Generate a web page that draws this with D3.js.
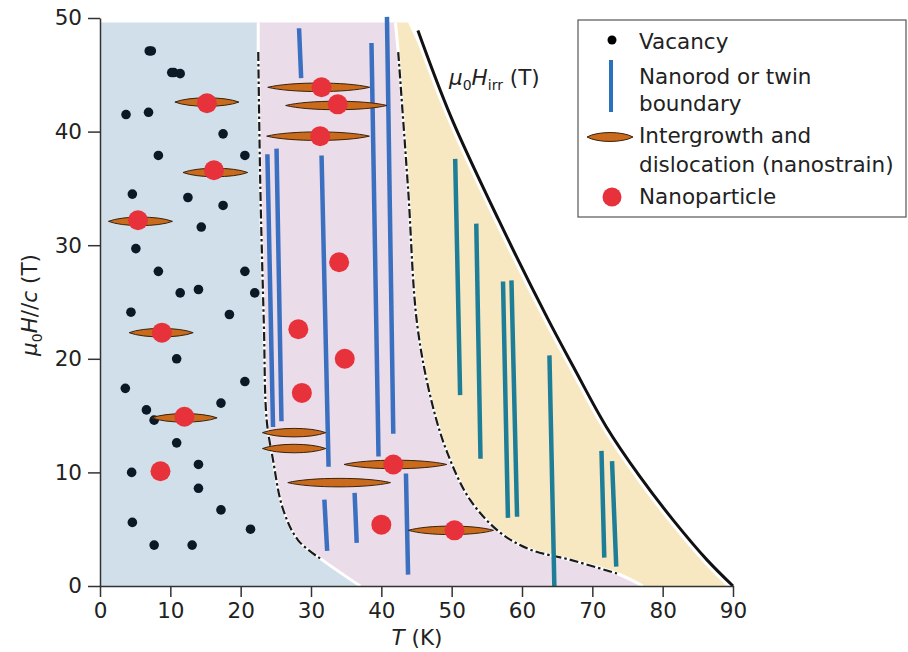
<!DOCTYPE html>
<html>
<head>
<meta charset="utf-8">
<script src="https://cdn.jsdelivr.net/npm/d3@7"></script>
<style>
  body { margin: 0; background: #fff; }
  text { font-family: "DejaVu Sans", sans-serif; fill: #222; }
</style>
</head>
<body>
<svg width="908" height="652"></svg>
<script>
// ---- data (T in K, field in T) ----
var xTicks = [0, 10, 20, 30, 40, 50, 60, 70, 80, 90];
var yTicks = [0, 10, 20, 30, 40, 50];
var regionTop = 49.6;

// blue / pink boundary and its dash-dot line
var leftEdge = [[22.5, 49.6], [22.5, 47], [22.8, 35], [23.3, 23], [23.7, 14.6], [24.6, 11.1],
                [26, 6.8], [28.2, 4], [31.6, 2.3], [37, 0]];
var leftDash = [[22.5, 47], [22.8, 35], [23.3, 23], [23.7, 14.6], [24.6, 11.1],
                [26, 6.8], [28.2, 4], [31.6, 2.3]];
// pink / yellow boundary and its dash-dot line
var rightEdge = [[42, 49.6], [42.4, 47], [43.8, 35], [45.1, 23], [47.2, 16.1], [49.4, 11.7],
                 [52.6, 7.6], [56.9, 4.7], [61.2, 3.2], [66.9, 2.3], [73.5, 1.1], [77.2, 0]];
var rightDash = [[42.4, 47], [43.8, 35], [45.1, 23], [47.2, 16.1], [49.4, 11.7],
                 [52.6, 7.6], [56.9, 4.7], [61.2, 3.2], [66.9, 2.3], [73.5, 1.1]];
// irreversibility field
var hirr = [[45.2, 48.9], [49.9, 41.3], [56.7, 32.2], [63.6, 23.6], [67.3, 19.3], [72.0, 14.0],
            [76.8, 9.6], [81.5, 5.8], [86.3, 2.3], [90, 0]];

var vacancies = [[7.0, 47.1], [7.3, 47.1], [10.2, 45.2], [10.5, 45.2], [11.4, 45.1], [3.7, 41.5],
    [6.9, 41.7], [17.5, 39.8], [8.3, 37.9], [20.6, 37.9], [4.6, 34.5], [12.5, 34.2],
    [17.5, 33.5], [14.4, 31.6], [5.1, 29.7], [8.3, 27.7], [20.6, 27.7], [11.4, 25.8],
    [14.0, 26.1], [22.0, 25.8], [4.4, 24.1], [18.4, 23.9], [10.9, 20.0], [3.6, 17.4],
    [20.6, 18.0], [6.6, 15.5], [7.7, 14.6], [17.2, 16.1], [10.9, 12.6], [4.5, 10.0],
    [14.0, 10.7], [14.0, 8.6], [17.2, 6.7], [4.6, 5.6], [21.4, 5.0], [7.7, 3.6], [13.1, 3.6]];

// nanorods / twin boundaries: [T top, H top, T bottom, H bottom]
var nanorods = [[28.3, 49.1, 28.6, 44.7], [23.8, 38.0, 24.6, 14.0], [25.1, 38.5, 25.8, 14.5],
    [31.5, 37.9, 32.5, 10.5], [38.6, 47.8, 39.6, 11.4], [40.8, 50.1, 41.7, 13.4],
    [31.9, 7.6, 32.3, 3.1], [36.2, 8.2, 36.5, 3.8], [43.5, 9.9, 43.8, 1.0]];
var twins = [[50.5, 37.6, 51.2, 16.8], [53.5, 31.9, 54.1, 11.2], [57.3, 26.8, 58.0, 6.0],
    [58.5, 26.9, 59.3, 6.1], [63.9, 20.3, 64.6, 0], [71.3, 11.9, 71.7, 2.5], [72.8, 11.0, 73.4, 1.7]];

// intergrowths: [T centre, H, half length in K]
var intergrowths = [[15.2, 42.6, 4.55], [16.4, 36.4, 4.6], [5.75, 32.1, 4.55], [8.7, 22.3, 4.55],
    [12.0, 14.8, 4.65], [31.1, 43.9, 7.25], [33.6, 42.3, 7.2], [31.0, 39.6, 7.3],
    [27.6, 13.5, 4.5], [27.6, 12.1, 4.5], [42.0, 10.7, 7.3], [34.0, 9.1, 7.3], [49.9, 4.9, 6.05]];

var nanoparticles = [[15.2, 42.5], [16.2, 36.6], [5.4, 32.2], [8.8, 22.3], [12.0, 14.9],
    [8.6, 10.1], [31.5, 43.9], [33.8, 42.4], [31.3, 39.6], [34.0, 28.5], [28.2, 22.6],
    [34.8, 20.0], [28.7, 17.0], [41.7, 10.7], [40.0, 5.4], [50.4, 4.9]];

var legendItems = [["Vacancy"], ["Nanorod or twin", "boundary"],
    ["Intergrowth and", "dislocation (nanostrain)"], ["Nanoparticle"]];

// ---- drawing ----
var svg = d3.select("svg");
var x = d3.scaleLinear().domain([0, 90]).range([100, 733]);
var y = d3.scaleLinear().domain([0, 50]).range([586, 18]);

var blue = "#d0dfe9", pink = "#ebdcea", yellow = "#f8e8c1";
var rodBlue = "#3b70c0", teal = "#1f7e97", red = "#e8323b", orange = "#c96a1c";
var fs = 21.5;

var line = d3.line().x(function (d) { return x(d[0]); }).y(function (d) { return y(d[1]); })
    .curve(d3.curveCatmullRom.alpha(0.5));
var poly = d3.line().x(function (d) { return x(d[0]); }).y(function (d) { return y(d[1]); });

function edgePoints(pts) {
    // sample the smooth curve so the fills share the outline of the strokes
    var p = svg.append("path").attr("d", line(pts)).attr("fill", "none");
    var n = p.node(), len = n.getTotalLength(), out = [];
    for (var i = 0; i <= 120; i++) {
        var q = n.getPointAtLength(len * i / 120);
        out.push([x.invert(q.x), y.invert(q.y)]);
    }
    p.remove();
    return out;
}
var leftPts = edgePoints(leftEdge);
var rightPts = edgePoints(rightEdge);
var hirrPts = edgePoints(hirr);

var regions = svg.append("g");
regions.append("path")
    .attr("d", poly([[0, regionTop]].concat(leftPts, [[0, 0]])) + "Z")
    .attr("fill", blue);
regions.append("path")
    .attr("d", poly(leftPts.concat(rightPts.slice().reverse())) + "Z")
    .attr("fill", pink);
var yellowTop = [[43.8, regionTop]].concat(hirrPts.filter(function (d) { return d[0] > 49; }));
regions.append("path")
    .attr("d", poly(rightPts.concat(yellowTop.reverse())) + "Z")
    .attr("fill", yellow);

// white seams and dash-dot boundaries
[leftEdge, rightEdge].forEach(function (e) {
    svg.append("path").attr("d", line(e)).attr("fill", "none")
        .attr("stroke", "#fff").attr("stroke-width", 3);
});
[leftDash, rightDash].forEach(function (e) {
    svg.append("path").attr("d", line(e)).attr("fill", "none")
        .attr("stroke", "#1a1a1a").attr("stroke-width", 2.2)
        .attr("stroke-dasharray", "9,3,2.5,3");
});

// irreversibility line
svg.append("path").attr("d", line(hirr)).attr("fill", "none")
    .attr("stroke", "#fff").attr("stroke-width", 9);
svg.append("path").attr("d", line(hirr)).attr("fill", "none")
    .attr("stroke", "#111").attr("stroke-width", 3);

// nanorods and twin boundaries
svg.append("g").selectAll("line").data(nanorods).enter().append("line")
    .attr("x1", function (d) { return x(d[0]); }).attr("y1", function (d) { return y(d[1]); })
    .attr("x2", function (d) { return x(d[2]); }).attr("y2", function (d) { return y(d[3]); })
    .attr("stroke", rodBlue).attr("stroke-width", 4.5);
svg.append("g").selectAll("line").data(twins).enter().append("line")
    .attr("x1", function (d) { return x(d[0]); }).attr("y1", function (d) { return y(d[1]); })
    .attr("x2", function (d) { return x(d[2]); }).attr("y2", function (d) { return y(d[3]); })
    .attr("stroke", teal).attr("stroke-width", 4.5);

// vacancies
svg.append("g").selectAll("circle").data(vacancies).enter().append("circle")
    .attr("cx", function (d) { return x(d[0]); }).attr("cy", function (d) { return y(d[1]); })
    .attr("r", 4.8).attr("fill", "#0b1826");

// intergrowths, drawn as lenses with tapered ends
function lens(cx, cy, rx, ry) {
    var k = ry * 1.35;
    return "M" + (cx - rx) + "," + cy +
        "C" + (cx - rx * 0.55) + "," + (cy - k) + " " + (cx + rx * 0.55) + "," + (cy - k) + " " + (cx + rx) + "," + cy +
        "C" + (cx + rx * 0.55) + "," + (cy + k) + " " + (cx - rx * 0.55) + "," + (cy + k) + " " + (cx - rx) + "," + cy + "Z";
}
svg.append("g").selectAll("path").data(intergrowths).enter().append("path")
    .attr("d", function (d) { return lens(x(d[0]), y(d[1]), x(d[2]) - x(0), 4.2); })
    .attr("fill", orange).attr("stroke", "#3a230c").attr("stroke-width", 1);

// nanoparticles
svg.append("g").selectAll("circle").data(nanoparticles).enter().append("circle")
    .attr("cx", function (d) { return x(d[0]); }).attr("cy", function (d) { return y(d[1]); })
    .attr("r", 10).attr("fill", red);

// axes
var ax = svg.append("g").attr("transform", "translate(0,586)")
    .call(d3.axisBottom(x).tickValues(xTicks).tickSize(11).tickSizeOuter(0).tickPadding(6));
var ay = svg.append("g").attr("transform", "translate(100,0)")
    .call(d3.axisLeft(y).tickValues(yTicks).tickSize(12).tickSizeOuter(0).tickPadding(6));
[ax, ay].forEach(function (a) {
    a.selectAll("path, line").attr("stroke", "#333").attr("stroke-width", 1.5);
    a.selectAll("text").attr("font-size", fs).attr("font-family", "DejaVu Sans").attr("fill", "#222");
});

// axis titles
var xl = svg.append("text").attr("x", 417).attr("y", 645).attr("text-anchor", "middle")
    .attr("font-size", fs);
xl.append("tspan").attr("font-style", "italic").text("T");
xl.append("tspan").text(" (K)");

var yl = svg.append("text").attr("transform", "translate(37,305) rotate(-90)")
    .attr("text-anchor", "middle").attr("font-size", fs);
yl.append("tspan").attr("font-style", "italic").text("μ");
yl.append("tspan").attr("font-size", 14).attr("dy", 5).text("0");
yl.append("tspan").attr("font-style", "italic").attr("dy", -5).text("H");
yl.append("tspan").text("//");
yl.append("tspan").attr("font-style", "italic").text("c");
yl.append("tspan").text(" (T)");

var hl = svg.append("text").attr("x", 449).attr("y", 85).attr("font-size", fs);
hl.append("tspan").attr("font-style", "italic").text("μ");
hl.append("tspan").attr("font-size", 14).attr("dy", 5).text("0");
hl.append("tspan").attr("font-style", "italic").attr("dy", -5).text("H");
hl.append("tspan").attr("font-size", 14).attr("dy", 5).text("irr");
hl.append("tspan").attr("dy", -5).text(" (T)");

// legend
var lg = svg.append("g");
lg.append("rect").attr("x", 578).attr("y", 20).attr("width", 328).attr("height", 197)
    .attr("fill", "#fff").attr("stroke", "#555").attr("stroke-width", 1.2);
lg.append("circle").attr("cx", 612).attr("cy", 40).attr("r", 4.5).attr("fill", "#000");
lg.append("line").attr("x1", 611).attr("x2", 611).attr("y1", 60).attr("y2", 112)
    .attr("stroke", "#2a72ba").attr("stroke-width", 4);
lg.append("path").attr("d", lens(610, 137, 23, 4.4))
    .attr("fill", orange).attr("stroke", "#3a230c").attr("stroke-width", 1);
lg.append("circle").attr("cx", 612).attr("cy", 197).attr("r", 9.5).attr("fill", red);
var baselines = [[49], [84, 111], [143, 172], [204]];
legendItems.forEach(function (item, i) {
    item.forEach(function (t, j) {
        lg.append("text").attr("x", 639).attr("y", baselines[i][j]).attr("font-size", fs).text(t);
    });
});
</script>
</body>
</html>
